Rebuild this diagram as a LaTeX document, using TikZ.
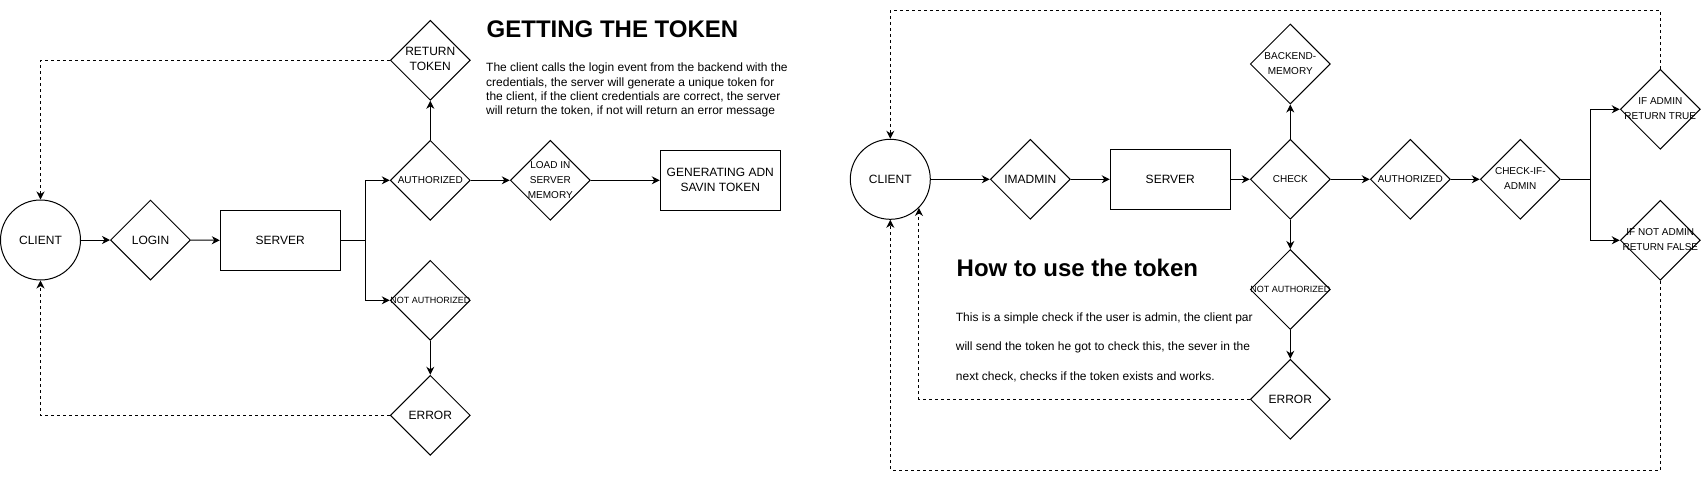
\documentclass[tikz,border=0pt]{standalone}
\usepackage{fontspec}
\setmainfont{Liberation Sans}
\usetikzlibrary{shapes.geometric,arrows.meta}

\newcommand\dtxt[1]{\makebox[0pt]{\begin{tabular}{@{}c@{}}#1\end{tabular}}}
\newcommand\dz[1]{\makebox[0pt]{#1}}

\tikzset{
  basebox/.style={draw, line width=1pt, inner sep=0pt, text=black, font=\fontsize{12}{15}\selectfont},
  dia/.style={basebox, diamond, minimum width=80pt, minimum height=80pt},
  rectbox/.style={basebox, rectangle, minimum width=120pt, minimum height=60pt, align=center},
  circ/.style={basebox, circle, minimum size=80pt},
  smalltxt/.style={font=\fontsize{10}{15}\selectfont},
  tinytxt/.style={font=\fontsize{9}{15}\selectfont},
  arr/.style={-{Stealth[length=8pt,width=8pt,inset=2.5pt]}, line width=1pt},
  darr/.style={arr, dash pattern=on 3pt off 3pt},
  titletxt/.style={anchor=base west, inner sep=0pt, font=\fontsize{24}{28}\selectfont\bfseries},
  paratxt/.style={anchor=base west, inner sep=0pt, align=left},
}

\begin{document}
\begin{tikzpicture}[x=1pt,y=-1pt]
\useasboundingbox (0,0) rectangle (1701,480);

% ---------- left: getting the token ----------
\node[circ] (c1) at (40.5,240) {CLIENT};
\node[dia] (login) at (150.5,240) {LOGIN};
\node[rectbox] (s1) at (280.3,240.3) {SERVER};
\node[dia,smalltxt] (auth1) at (430.3,180.3) {\dz{AUTHORIZED}};
\node[dia] (ret) at (430.3,60.3) {\dtxt{RETURN\\TOKEN}};
\node[dia,tinytxt] (na1) at (430.3,300.3) {\dz{NOT AUTHORIZED}};
\node[dia] (e1) at (430.3,415.3) {ERROR};
\node[dia,smalltxt] (load) at (550.3,180.3) {\dtxt{LOAD IN\\SERVER\\MEMORY}};
\node[rectbox] (gen) at (720.3,180.3) {GENERATING ADN\\SAVIN TOKEN};

\node[titletxt] (t1) at (486.5,37.3) {GETTING THE TOKEN};
% base anchor of a multi-line node is the baseline of its last line
\node[paratxt, font=\fontsize{12}{14.4}\selectfont] (p1) at (486,114.9)
  {The client calls the login event from the backend with the\\credentials, the server will generate a unique token for\\the client, if the client credentials are correct, the server\\will return the token, if not will return an error message};

\draw[arr] (c1.east) -- (login.west);
\draw[arr] (login.east) -- (s1.west);
\draw[arr] (s1.east) -- ++(25,0) coordinate (j1) |- (auth1.west);
\draw[arr] (j1) |- (na1.west);
\draw[arr] (auth1.north) -- (ret.south);
\draw[arr] (auth1.east) -- (load.west);
\draw[arr] (load.east) -- (gen.west);
\draw[arr] (na1.south) -- (e1.north);
\draw[darr] (ret.west) -| (c1.north);
\draw[darr] (e1.west) -| (c1.south);

% ---------- right: how to use the token ----------
\node[circ] (c2) at (890.3,179.3) {CLIENT};
\node[dia] (imadmin) at (1030.3,179.3) {IMADMIN};
\node[rectbox] (s2) at (1170.3,179.3) {SERVER};
\node[dia,smalltxt] (check) at (1290.3,179.3) {CHECK};
\node[dia,smalltxt] (backend) at (1290.3,64) {\dtxt{BACKEND-\\MEMORY}};
\node[dia,tinytxt] (na2) at (1290.3,289.5) {\dz{NOT AUTHORIZED}};
\node[dia] (e2) at (1290.3,399.3) {ERROR};
\node[dia,smalltxt] (auth2) at (1410.3,179.3) {\dz{AUTHORIZED}};
\node[dia,smalltxt] (cia) at (1520.3,179.3) {\dtxt{CHECK-IF-\\ADMIN}};
\node[dia,smalltxt] (ifa) at (1660.3,109.3) {\dtxt{IF ADMIN\\RETURN TRUE}};
\node[dia,smalltxt] (ifn) at (1660.3,240.3) {\dtxt{IF NOT ADMIN\\RETURN FALSE}};

\node[titletxt] (t2) at (956.5,276.7) {How to use the token};
\node[paratxt, font=\fontsize{12}{29.2}\selectfont] (p2) at (955.7,380.1)
  {This is a simple check if the user is admin, the client par\\will send the token he got to check this, the sever in the\\next check, checks if the token exists and works.};

\coordinate (topc) at (890.3,10.3);
\coordinate (botc) at (890.3,470);

\draw[arr] (c2.east) -- (imadmin.west);
\draw[arr] (imadmin.east) -- (s2.west);
\draw[arr] (s2.east) -- (check.west);
\draw[arr] (check.north) -- (backend.south);
\draw[arr] (check.south) -- (na2.north);
\draw[arr] (na2.south) -- (e2.north);
\draw[arr] (check.east) -- (auth2.west);
\draw[arr] (auth2.east) -- (cia.west);
\draw[arr] (cia.east) -- ++(30,0) coordinate (j2) |- (ifa.west);
\draw[arr] (j2) |- (ifn.west);
\draw[darr] (ifa.north) |- (topc) -- (c2.north);
\draw[darr] (ifn.south) |- (botc) -- (c2.south);
\draw[darr] (e2.west) -| (c2.-45);
\end{tikzpicture}
\end{document}
